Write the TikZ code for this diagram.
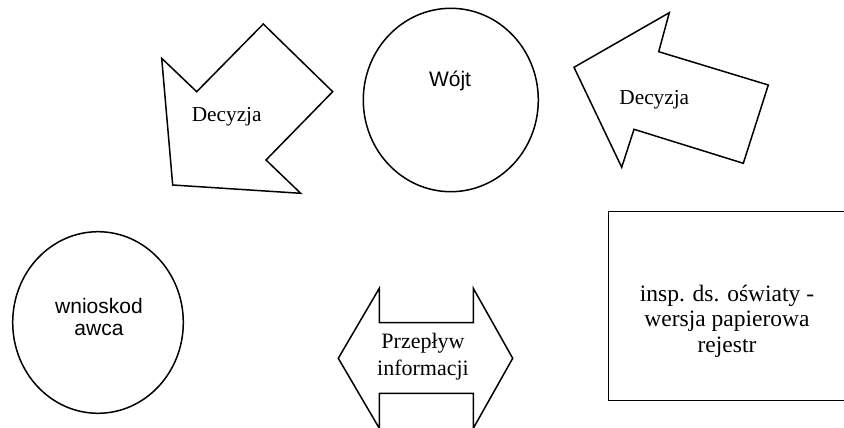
\documentclass[tikz,border=0pt]{standalone}
\usepackage{fontspec}
\setmainfont{Liberation Serif}
\setsansfont{Liberation Sans}
\usetikzlibrary{shapes.geometric}
\begin{document}
\begin{tikzpicture}[x=1pt,y=-1pt,
  outline/.style={draw=black,line width=1.5pt,line join=miter},
  oval/.style={ellipse,draw=black,line width=1.5pt,inner sep=0pt},
  serif/.style={font=\fontsize{21.3}{24}\selectfont,align=center,inner sep=0pt},
  serifbig/.style={font=\fontsize{23.5}{25.5}\selectfont,align=center,inner sep=0pt},
  sans/.style={font=\sffamily\fontsize{21}{22}\selectfont,align=center,inner sep=0pt}]
\useasboundingbox (0,0) rectangle (844,428);
% left arrow (Decyzja)
\draw[outline] (161.7,58.3) -- (196.7,91.7) -- (263.3,24) -- (332.7,91.7) -- (266,160) -- (300.7,193.3) -- (172.7,185) -- cycle;
\node[serif] (dl) at (226.7,117) {Decyzja};
% right arrow (Decyzja)
\draw[outline] (574,67.3) -- (669.3,12.7) -- (658.7,51.7) -- (768.3,85) -- (743.3,163.3) -- (634,129.3) -- (621.7,167.3) -- cycle;
\node[serif] (dr) at (654.3,99.5) {Decyzja};
% Wójt
\node[oval,minimum width=175pt,minimum height=183.4pt] (wojt) at (450.8,100) {};
\node[sans] (wojtt) at (450,81) {Wójt};
% wnioskodawca
\node[oval,minimum width=170.6pt,minimum height=181.6pt] (wn) at (98,322.5) {};
\node[sans] (wnt) at (99,317) {wnioskod\\awca};
% double arrow
\draw[outline] (338.3,358.3) -- (379.3,288.3) -- (379.3,322.7) -- (473.3,322.7) -- (473.3,288.3) -- (512.7,358.3) -- (473.3,428.3) -- (473.3,393.3) -- (379.3,393.3) -- (379.3,428.3) -- cycle;
\node[font=\fontsize{22}{26.6}\selectfont,align=center,inner sep=0pt] (pi) at (423,357) {Przepływ\\informacji};
% rectangle
\draw[outline] (852,211.7) -- (608.3,211.7) -- (608.3,400.7) -- (852,400.7);
\node[serifbig] (ins) at (727,321) {insp. ds. oświaty -\\wersja papierowa\\rejestr};
\end{tikzpicture}
\end{document}
